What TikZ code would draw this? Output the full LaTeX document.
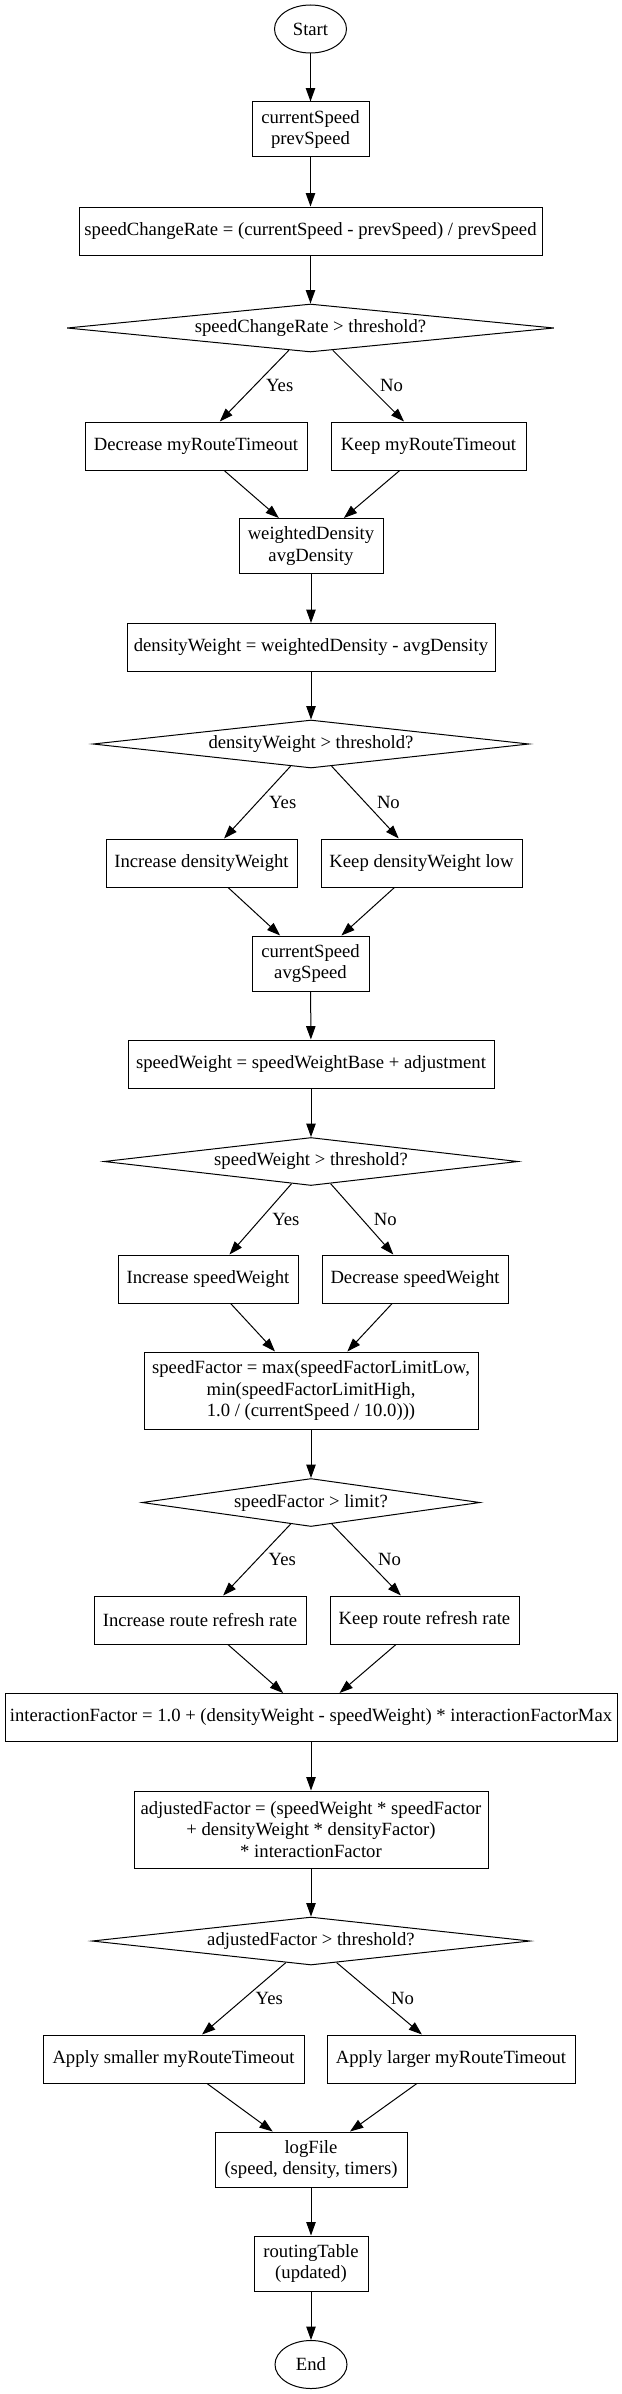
\documentclass[tikz,border=0pt]{standalone}
\usepackage{fontspec}
\setmainfont{Liberation Serif}
\usetikzlibrary{shapes.geometric, arrows.meta}

\tikzset{
  stepbox/.style={draw, rectangle, line width=0.75pt, inner sep=0pt, minimum height=36pt, align=center},
  terminal/.style={draw, ellipse, line width=0.75pt, inner sep=0pt, minimum width=54pt, minimum height=36pt},
  decision/.style={draw, diamond, line width=0.75pt, inner sep=0pt, minimum height=36pt},
  flow/.style={line width=0.75pt, -{Triangle[length=10pt, width=7pt]}},
  branch/.style={midway, right, inner sep=0pt, xshift=8.5pt}
}

\begin{document}
\begin{tikzpicture}[x=0.75pt, y=-0.75pt, font=\fontsize{14}{16.3}\selectfont]

    \useasboundingbox (0,0) rectangle (621,2394);

    \node[terminal] (start) at (310.5,29) {Start};
    \node[stepbox, minimum width=87.75pt, minimum height=41.25pt] (speedIn) at (310.5,129.5) {currentSpeed\\prevSpeed};
    \node[stepbox, minimum width=347.25pt] (rate) at (310.5,231) {speedChangeRate = (currentSpeed - prevSpeed) / prevSpeed};
    \node[decision, minimum width=365.25pt, label=center:{speedChangeRate > threshold?}] (qRate) at (310.5,328) {};
    \node[stepbox, minimum width=166.5pt] (decTimeout) at (196,446) {Decrease myRouteTimeout};
    \node[stepbox, minimum width=146.25pt] (keepTimeout) at (428.5,446) {Keep myRouteTimeout};

    \node[stepbox, minimum width=108pt, minimum height=41.25pt] (densityIn) at (311,546) {weightedDensity\\avgDensity};
    \node[stepbox, minimum width=276pt] (densityW) at (311,647.5) {densityWeight = weightedDensity - avgDensity};
    \node[decision, minimum width=327pt, label=center:{densityWeight > threshold?}] (qDensity) at (311,744) {};
    \node[stepbox, minimum width=143.25pt] (incDensity) at (201.5,863) {Increase densityWeight};
    \node[stepbox, minimum width=150.75pt] (keepDensity) at (421.5,863) {Keep densityWeight low};

    \node[stepbox, minimum width=87.75pt, minimum height=41.25pt] (speedIn2) at (310.5,963.5) {currentSpeed\\avgSpeed};
    \node[stepbox, minimum width=274.5pt] (speedW) at (311,1064) {speedWeight = speedWeightBase + adjustment};
    \node[decision, minimum width=310.5pt, label=center:{speedWeight > threshold?}] (qSpeed) at (311,1161.5) {};
    \node[stepbox, minimum width=135pt] (incSpeed) at (208,1279) {Increase speedWeight};
    \node[stepbox, minimum width=139.5pt] (decSpeed) at (415,1279) {Decrease speedWeight};

    \node[stepbox, minimum width=250.5pt, minimum height=57.75pt] (factor) at (311,1390.5) {speedFactor = max(speedFactorLimitLow,\\min(speedFactorLimitHigh,\\1.0 / (currentSpeed / 10.0)))};
    \node[decision, minimum width=253.5pt, label=center:{speedFactor > limit?}] (qFactor) at (311,1502.5) {};
    \node[stepbox, minimum width=159pt] (incRefresh) at (200,1620) {Increase route refresh rate};
    \node[stepbox, minimum width=141.75pt] (keepRefresh) at (424.5,1620) {Keep route refresh rate};

    \node[stepbox, minimum width=459pt] (interaction) at (311,1717.5) {interactionFactor = 1.0 + (densityWeight - speedWeight) * interactionFactorMax};
    \node[stepbox, minimum width=265.5pt, minimum height=57.75pt] (adjusted) at (311,1829.5) {adjustedFactor = (speedWeight * speedFactor\\+ densityWeight * densityFactor)\\* interactionFactor};
    \node[decision, minimum width=328.5pt, label=center:{adjustedFactor > threshold?}] (qAdjusted) at (311,1941) {};
    \node[stepbox, minimum width=195.75pt] (applySmall) at (173.5,2059) {Apply smaller myRouteTimeout};
    \node[stepbox, minimum width=186pt] (applyLarge) at (451,2059) {Apply larger myRouteTimeout};

    \node[stepbox, minimum width=144pt, minimum height=41.25pt] (logFile) at (311,2159.5) {logFile\\(speed, density, timers)};
    \node[stepbox, minimum width=85.5pt, minimum height=41.25pt] (routing) at (311,2263.5) {routingTable\\(updated)};
    \node[terminal] (finish) at (311,2364.5) {End};

    \foreach \a/\b in {start/speedIn, speedIn/rate, rate/qRate,
                       decTimeout/densityIn, keepTimeout/densityIn, densityIn/densityW, densityW/qDensity,
                       incDensity/speedIn2, keepDensity/speedIn2, speedIn2/speedW, speedW/qSpeed,
                       incSpeed/factor, decSpeed/factor, factor/qFactor,
                       incRefresh/interaction, keepRefresh/interaction, interaction/adjusted, adjusted/qAdjusted,
                       applySmall/logFile, applyLarge/logFile, logFile/routing, routing/finish}
        \draw[flow] (\a) -- (\b);

    \foreach \q/\y/\n in {qRate/decTimeout/keepTimeout, qDensity/incDensity/keepDensity,
                          qSpeed/incSpeed/decSpeed, qFactor/incRefresh/keepRefresh,
                          qAdjusted/applySmall/applyLarge} {
        \draw[flow] (\q) -- node[branch] {Yes} (\y);
        \draw[flow] (\q) -- node[branch] {No} (\n);
    }

\end{tikzpicture}
\end{document}
